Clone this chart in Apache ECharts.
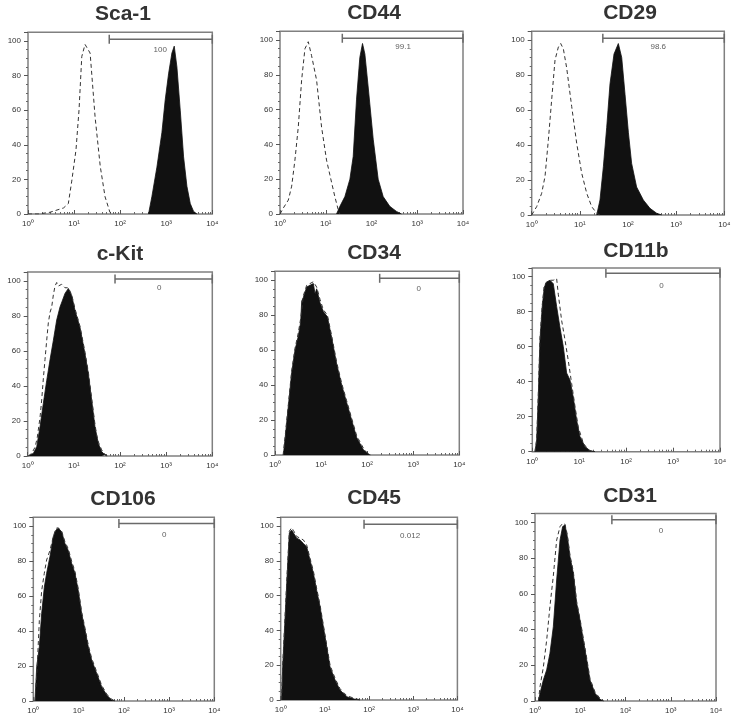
<!DOCTYPE html>
<html>
<head>
<meta charset="utf-8">
<script src="https://cdn.jsdelivr.net/npm/echarts@6/dist/echarts.min.js"></script>
<style>
  html, body { margin: 0; padding: 0; background: #fff; }
  #main { width: 736px; height: 725px; }
</style>
</head>
<body>
<div id="main"></div>
<script>
// 面板标题
const panelNames = ['Sca-1', 'CD44', 'CD29', 'c-Kit', 'CD34', 'CD11b', 'CD106', 'CD45', 'CD31'];
const xTickLabels = ['10⁰', '10¹', '10²', '10³', '10⁴'];
const yTicks = [0, 20, 40, 60, 80, 100];

// 染色样本 (实心) [荧光强度, 计数%]
const sca1Fill = [[413,0],[488,10],[627,27],[805,47],[951,66],[1124,81],[1328,93],[1493,97],[1706,85],[2014,60],[2382,33],[2812,16],[3325,6],[3926,1.5],[4642,0]];
const cd44Fill = [[17.2,0],[20.4,4.4],[26.2,10],[33.7,20],[39.8,33],[47.1,66],[55.6,90],[63.6,98],[71.6,92],[84.6,73],[109,43],[140,20],[180,10],[251,4.4],[351,1.5],[452,0]];
const cd29Fill = [[22.4,0],[26.2,8.6],[30.8,27.6],[36.1,50],[42.3,75],[51.2,92],[63,98],[74,90],[86.7,69],[102,47],[119,29.5],[151,16],[208,8.6],[286,3.8],[394,1],[500,0]];
const ckitFill = [[1.03,0],[1.33,1.5],[1.57,5.3],[1.85,16.7],[2.18,30],[2.58,43],[3.05,55],[3.6,66],[4.25,77.6],[5.01,85],[6.44,92.8],[7.6,95.6],[8.98,91.6],[10.6,83],[13.6,73.4],[17.5,58],[20.6,47],[24.3,32],[28.7,16.7],[34,7],[40.1,2.5],[47.3,0.6],[51.4,0]];
const cd34Fill = [[1.52,0],[1.65,9],[1.95,28],[2.3,47],[2.72,60],[3.21,68],[3.61,76],[3.8,88],[4.12,90],[4.87,96],[5.75,97],[6.79,98],[7.4,92],[8.02,95],[9.47,87],[11.2,82],[13.7,79],[17,67],[21.8,52],[28,40],[35.9,30],[46.1,20],[59.2,10],[82.6,3],[115,0]];
const cd11bFill = [[1.14,0],[1.24,6.7],[1.34,31],[1.46,64],[1.63,83],[1.8,94],[2.02,97],[2.38,98],[2.8,96],[3.3,83],[3.89,71],[4.58,60],[5.39,45],[6.35,41],[7.48,31],[8.81,18],[10.4,8.6],[13.3,2.9],[17,0.6],[21.7,0]];
const cd106Fill = [[1.09,0],[1.19,19.6],[1.36,31],[1.53,50],[1.75,65],[1.97,73],[2.33,82.5],[2.77,94],[3.17,97.7],[3.57,98.7],[4.23,96.8],[5.01,90],[5.93,86],[7.03,78.7],[8.34,73],[9.87,63],[11.7,50],[13.9,40.6],[16.4,31],[19.5,23.4],[25.1,15.8],[32.4,8.2],[41.8,3.4],[53.8,0.6],[63.8,0]];
const cd45Fill = [[1.05,0],[1.11,19],[1.25,46],[1.42,75],[1.57,96],[1.77,97.7],[1.94,96.7],[2.3,93],[2.74,92],[3.26,90],[3.88,88],[4.61,80.5],[5.5,72.8],[6.53,63],[7.78,53.6],[9.25,42],[11,30.7],[13.1,19],[17,11.5],[22,5.7],[31.2,1.9],[48.2,0.4],[62.5,0]];
const cd31Fill = [[1.19,0],[1.29,4.3],[1.53,11.8],[1.81,17.4],[2.14,26.7],[2.54,41.6],[3.01,67.7],[3.57,90],[4.08,97.6],[4.6,98.5],[5.19,92],[5.93,80.8],[7.03,71.5],[8.34,54.7],[9.87,45.3],[11.7,34],[13.9,23],[16.4,11.8],[21.2,4.3],[27.3,1],[32.4,0]];

// 同型对照 (虚线)
const sca1Ctrl = [[1,0],[1.67,0],[3.0,1],[5.9,3.5],[7.5,6],[8.9,19],[11,37],[12.8,60],[14.7,91],[17.3,98],[22.3,93],[28.6,56],[37,27.5],[47,10],[60,1],[72,0]];
const cd44Ctrl = [[1,0],[1.18,3.4],[1.52,8],[1.8,16],[2.12,31],[2.51,50],[2.97,77],[3.51,95],[4.15,99],[4.9,91],[6.3,77],[8.1,50],[10.4,31],[12.3,22.5],[15.8,10],[18.7,2.5],[20.3,0]];
const cd29Ctrl = [[1,0],[1.27,4.8],[1.61,12.4],[1.89,22],[2.22,43],[2.6,66],[3.05,88.6],[3.58,96],[4.0,98],[4.54,95],[5.33,84],[6.77,62],[8.6,41],[10.9,24],[13.9,12.4],[17.6,4.8],[22.4,1],[26.2,0]];
const ckitCtrl = [[1.03,0],[1.22,1.5],[1.44,5],[1.6,10],[1.85,22],[2.01,32],[2.18,44],[2.37,55],[2.58,66],[2.8,76],[3.05,82],[3.31,85],[3.6,92],[3.91,97],[4.25,99],[4.62,97],[5.01,96],[5.45,98],[6.44,96],[7.6,96],[8.98,92],[10.6,84],[13.6,74],[17.5,59],[20.6,48],[24.3,33],[28.7,18],[31.2,12],[34,8],[40.1,3.5],[47.3,1],[54,0]];
const cd34Ctrl = [[1.5,0],[1.65,10],[1.95,29],[2.3,48],[2.72,61],[3.21,70],[3.61,78],[4.12,91],[4.87,97],[5.75,98],[6.79,99],[8.02,96],[9.47,89],[11.2,83],[13.7,80],[17,68],[21.8,53],[28,41],[35.9,31],[46.1,21],[59.2,11],[82.6,4],[100,1],[120,0]];
const cd11bCtrl = [[1.14,0],[1.24,7],[1.34,32],[1.46,65],[1.63,84],[1.8,95],[2.02,97],[2.38,98],[2.8,98],[3.3,99],[3.58,90],[4.22,75],[4.97,64],[5.85,52],[6.89,39],[8.11,26],[9.55,14],[12.2,5],[15.6,1],[20,0]];
const cd106Ctrl = [[1.09,0],[1.22,19.6],[1.36,46],[1.53,63],[1.75,73],[1.97,80.6],[2.33,86],[2.77,94],[3.17,98.7],[3.57,99],[4.23,97],[5.01,91],[5.93,87],[7.03,80],[8.34,74],[9.87,64],[11.7,51],[13.9,41.6],[16.4,32],[19.5,24.4],[25.1,16.8],[32.4,9],[41.8,4],[53.8,1],[66,0]];
const cd45Ctrl = [[1.05,0],[1.11,20],[1.25,47],[1.42,76],[1.57,97],[1.77,99],[1.94,97.5],[2.3,94],[2.74,93],[3.26,92],[3.88,89],[4.61,81.5],[5.5,74],[6.53,64],[7.78,54.6],[9.25,43],[11,31.7],[13.1,20],[17,12.5],[22,6.5],[31.2,2.5],[48.2,0.8],[66,0]];
const cd31Ctrl = [[1.19,0],[1.29,8],[1.53,19],[1.81,34],[2.14,53],[2.54,70],[3.01,90],[3.57,97.6],[4.08,99.4],[4.6,99],[5.19,93],[5.93,81.5],[7.03,72.5],[8.34,55.5],[9.87,46],[11.7,35],[13.9,24],[16.4,12.5],[21.2,5],[27.3,1.5],[33,0]];

// 阳性门 (M1)
const gateLo = [58, 23, 30, 78, 187, 37, 78, 77, 50];
const gateHi = [10000, 10000, 10000, 10000, 10000, 10000, 10000, 10000, 10000];
const gateLevel = [101, 101, 101, 101, 101, 102, 101.5, 101, 101.5];
const gateText = ['100', '99.1', '98.6', '0', '0', '0', '0', '0.012', '0'];
const gateTextX = [740, 490, 425, 710, 1320, 565, 780, 850, 610];
const gateTextY = [95, 96, 96, 96, 95, 95, 95, 94.5, 95];

const fillData = [sca1Fill, cd44Fill, cd29Fill, ckitFill, cd34Fill, cd11bFill, cd106Fill, cd45Fill, cd31Fill];
const ctrlData = [sca1Ctrl, cd44Ctrl, cd29Ctrl, ckitCtrl, cd34Ctrl, cd11bCtrl, cd106Ctrl, cd45Ctrl, cd31Ctrl];

// 每个面板的绘图区 [left, top, width, height]
const panelBox = [
  [28, 32.3, 184.3, 181.7],
  [280, 31.3, 183, 182.7],
  [531.7, 31.3, 192.6, 183.7],
  [27.7, 272, 184.6, 184],
  [275, 271.3, 184.3, 183.7],
  [532.3, 268, 187.7, 183.7],
  [33.3, 517.3, 181, 183.7],
  [280.7, 517.3, 176.7, 182.7],
  [535, 513.4, 181, 187.6]
];
const titlePos = [[123, 14.2], [374, 13.7], [630, 13.3], [120, 254.6], [374, 253.3], [636, 251], [123, 499.7], [374, 498.3], [630, 496]];

// 对数轴的次刻度 (2..9 × 10^k)，放在 log 空间的辅助轴上
const minorTickPos = [];
for (let k = 0; k < 4; k++) {
  for (let m = 2; m <= 9; m++) minorTickPos.push(k + Math.log10(m));
}

const FONT = "'Liberation Sans', Arial, sans-serif";
const grid = [], xAxis = [], yAxis = [], series = [], graphic = [];

panelNames.forEach((name, i) => {
  const b = panelBox[i];
  grid.push({
    left: b[0], top: b[1], width: b[2], height: b[3],
    show: true, borderColor: '#808080', borderWidth: 1.5, backgroundColor: 'transparent'
  });
  xAxis.push({
    type: 'log', logBase: 10, min: 1, max: 10000, gridIndex: i,
    axisLine: { show: false },
    axisTick: { show: true, inside: true, length: 4, lineStyle: { color: '#555', width: 1 } },
    splitLine: { show: false },
    axisLabel: {
      fontSize: 8, color: '#333', fontFamily: FONT, margin: 6,
      formatter: (v) => xTickLabels[Math.round(Math.log10(v))]
    }
  });
  // 次刻度辅助轴
  xAxis.push({
    type: 'value', min: 0, max: 4, gridIndex: i, position: 'bottom',
    axisLine: { show: false, onZero: false },
    axisLabel: { show: false },
    splitLine: { show: false },
    axisTick: { show: true, inside: true, length: 2, customValues: minorTickPos, lineStyle: { color: '#666', width: 1 } }
  });
  yAxis.push({
    type: 'value', min: 0, max: 105, interval: 20, gridIndex: i,
    axisLine: { show: false },
    axisTick: { show: true, length: 4, lineStyle: { color: '#555' } },
    minorTick: { show: true, splitNumber: 4, length: 2, lineStyle: { color: '#666' } },
    splitLine: { show: false },
    axisLabel: { fontSize: 8, color: '#333', fontFamily: FONT, margin: 7, showMaxLabel: false,
      formatter: (v) => (yTicks.indexOf(v) >= 0 ? String(v) : '') }
  });

  const xi = i * 2;
  // 实心直方图
  series.push({
    type: 'line', xAxisIndex: xi, yAxisIndex: i, data: fillData[i],
    showSymbol: false, symbol: 'none', silent: true,
    lineStyle: { color: '#111', width: 0.8 },
    areaStyle: { color: '#111', opacity: 1 },
    z: 2
  });
  // 对照虚线
  series.push({
    type: 'line', xAxisIndex: xi, yAxisIndex: i, data: ctrlData[i],
    showSymbol: false, symbol: 'none', silent: true,
    lineStyle: { color: '#333', width: 1, type: [4, 3] },
    z: 3
  });
  // 门
  series.push({
    type: 'line', xAxisIndex: xi, yAxisIndex: i,
    data: [[gateLo[i], gateLevel[i]], [gateHi[i], gateLevel[i]]],
    symbol: 'rect', symbolSize: [1.5, 9], showSymbol: true, silent: true,
    itemStyle: { color: '#6a6a6a' },
    lineStyle: { color: '#6a6a6a', width: 1.5 },
    z: 4
  });
  series.push({
    type: 'scatter', xAxisIndex: xi, yAxisIndex: i,
    data: [[gateTextX[i], gateTextY[i]]],
    symbolSize: 1, itemStyle: { color: 'rgba(0,0,0,0)' }, silent: true,
    label: { show: true, position: 'inside', formatter: gateText[i], fontSize: 8, color: '#333', fontFamily: FONT },
    z: 5
  });

  graphic.push({
    type: 'text', x: titlePos[i][0], y: titlePos[i][1],
    style: { text: name, font: 'bold 21px ' + FONT, fill: '#333', textAlign: 'center', textVerticalAlign: 'middle' }
  });
});

const chart = echarts.init(document.getElementById('main'), null, { renderer: 'canvas' });
chart.setOption({
  backgroundColor: '#fff',
  animation: false,
  grid, xAxis, yAxis, series, graphic
});
</script>
</body>
</html>
